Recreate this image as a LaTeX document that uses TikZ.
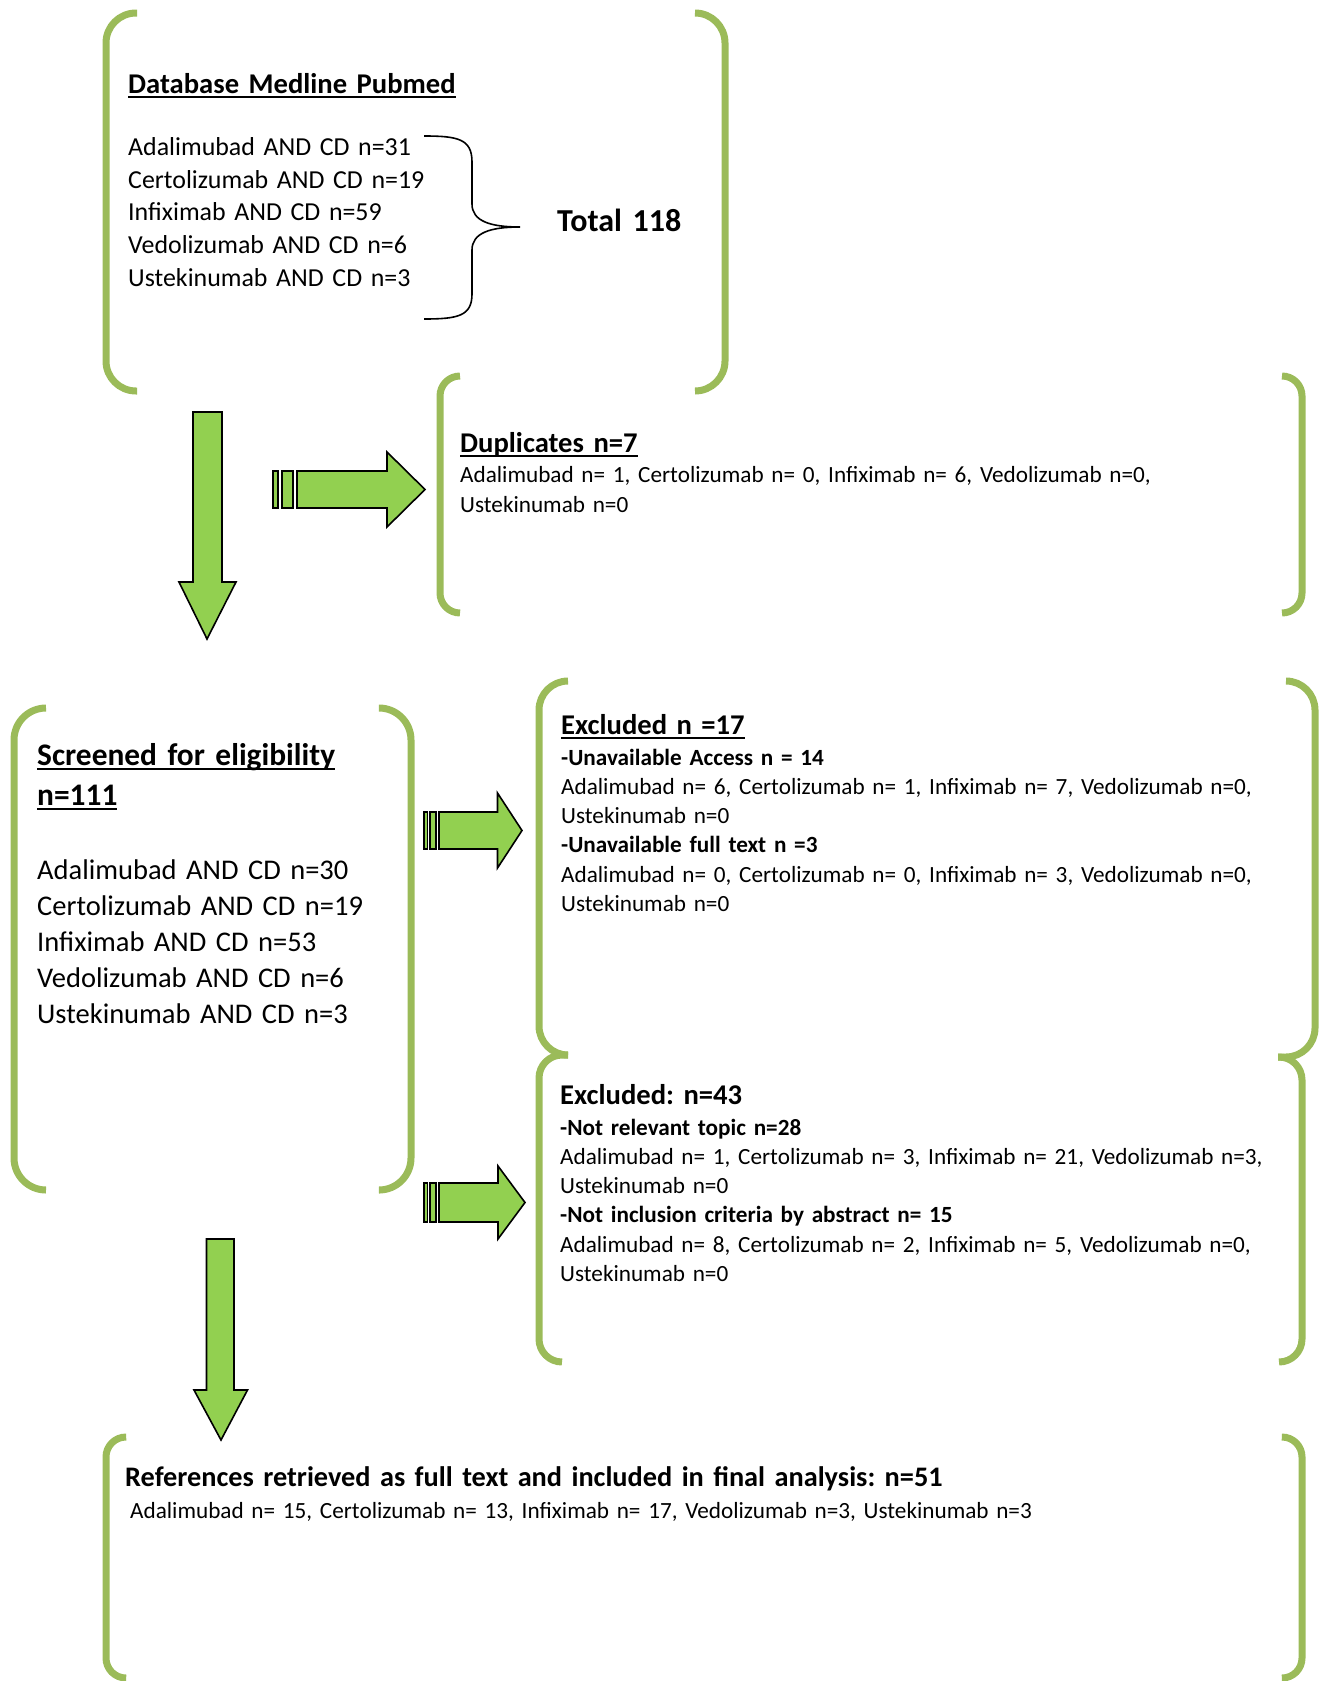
\documentclass[tikz,border=0pt]{standalone}
\usepackage{fontspec}
\setmainfont{Carlito}
\usetikzlibrary{positioning}
\definecolor{framegreen}{HTML}{9BBB59}
\definecolor{arrowgreen}{HTML}{92D050}
\newcommand{\headrule}[1]{\leavevmode\sbox0{#1}\rlap{\rule[-5pt]{\wd0}{2pt}}\usebox0}
\tikzset{
  bracket/.style={draw=framegreen, line width=7pt},
  blockarrow/.style={fill=arrowgreen, draw=black, line width=1.6pt},
  brace/.style={draw=black, line width=1.6pt},
  txt/.style={anchor=base west, inner sep=0pt, align=left, text width=760pt},
  headA/.style={txt, font=\fontsize{28.6}{36}\selectfont\bfseries},
  listA/.style={txt, font=\fontsize{25.9}{32.7}\selectfont},
  listB/.style={txt, font=\fontsize{28.5}{36}\selectfont},
  bodytext/.style={txt, font=\fontsize{23.2}{29.3}\selectfont},
}

\begin{document}
\frenchspacing
\begin{tikzpicture}[x=1pt, y=-1pt]
\useasboundingbox (0,0) rectangle (1324,1681);

% frames
\draw[bracket, rounded corners=30pt] (137,13) -- (106,13) -- (106,391) -- (137,391);
\draw[bracket, rounded corners=30pt] (695,13) -- (725,13) -- (725,391) -- (695,391);
\draw[bracket, rounded corners=20pt] (460,376) -- (440,376) -- (440,613) -- (460,613);
\draw[bracket, rounded corners=20pt] (1282,376) -- (1302,376) -- (1302,613) -- (1282,613);
\draw[bracket, rounded corners=32pt] (46,708) -- (14,708) -- (14,1190) -- (46,1190);
\draw[bracket, rounded corners=32pt] (380,708) -- (411,708) -- (411,1190) -- (380,1190);
\draw[bracket, rounded corners=29pt] (568,681) -- (539,681) -- (539,1055) -- (568,1055);
\draw[bracket, rounded corners=29pt] (1286,681) -- (1315,681) -- (1315,1057) -- (1278,1057);
\draw[bracket, rounded corners=23pt] (568,1055) -- (539,1055) -- (539,1362) -- (562,1362);
\draw[bracket, rounded corners=23pt] (1278,1057) -- (1302,1057) -- (1302,1362) -- (1279,1362);
\draw[bracket, rounded corners=20pt] (125,1437) -- (106,1437) -- (106,1678) -- (125,1678);
\draw[bracket, rounded corners=20pt] (1283,1437) -- (1302,1437) -- (1302,1678) -- (1283,1678);

% texts
\node[headA] (dbtitle) at (128,93) {\headrule{Database Medline Pubmed}};
\node[listA, below=62.5pt of dbtitle.base west, anchor=base west] (dblist)
  {Adalimubad AND CD n=31\\ Certolizumab AND CD n=19\\ Infiximab AND CD n=59\\
   Vedolizumab AND CD n=6\\ Ustekinumab AND CD n=3};
\node[txt, font=\fontsize{32}{38}\selectfont\bfseries] (total) at (557,231) {Total 118};

\node[headA] (duptitle) at (460,452) {\headrule{Duplicates n=7}};
\node[bodytext, below=30.7pt of duptitle.base west, anchor=base west] (duplist)
  {Adalimubad n= 1, Certolizumab n= 0, Infiximab n= 6, Vedolizumab n=0,\\ Ustekinumab n=0};

\node[txt, font=\fontsize{31.4}{40}\selectfont\bfseries] (scrtitle) at (37,765)
  {\headrule{Screened for eligibility}\\ \headrule{n=111}};
\node[listB, below=114pt of scrtitle.base west, anchor=base west] (scrlist)
  {Adalimubad AND CD n=30\\ Certolizumab AND CD n=19\\ Infiximab AND CD n=53\\
   Vedolizumab AND CD n=6\\ Ustekinumab AND CD n=3};

\node[headA] (exatitle) at (561,734) {\headrule{Excluded n =17}};
\node[bodytext, below=31pt of exatitle.base west, anchor=base west] (exalist)
  {\textbf{-Unavailable Access n = 14}\\
   Adalimubad n= 6, Certolizumab n= 1, Infiximab n= 7, Vedolizumab n=0,\\ Ustekinumab n=0\\
   \textbf{-Unavailable full text n =3}\\
   Adalimubad n= 0, Certolizumab n= 0, Infiximab n= 3, Vedolizumab n=0,\\ Ustekinumab n=0};

\node[headA] (exbtitle) at (560,1104) {Excluded: n=43};
\node[bodytext, below=31pt of exbtitle.base west, anchor=base west] (exblist)
  {\textbf{-Not relevant topic n=28}\\
   Adalimubad n= 1, Certolizumab n= 3, Infiximab n= 21, Vedolizumab n=3,\\ Ustekinumab n=0\\
   \textbf{-Not inclusion criteria by abstract n= 15}\\
   Adalimubad n= 8, Certolizumab n= 2, Infiximab n= 5, Vedolizumab n=0,\\ Ustekinumab n=0};

\node[txt, font=\fontsize{28.3}{36}\selectfont\bfseries, text width=1100pt] (fintitle) at (125,1486)
  {References retrieved as full text and included in final analysis: n=51};
\node[bodytext, text width=1100pt, below=32pt of fintitle.base west, anchor=base west, xshift=5pt] (finlist)
  {Adalimubad n= 15, Certolizumab n= 13, Infiximab n= 17, Vedolizumab n=3, Ustekinumab n=3};

% curly brace
\draw[brace] (424,136) .. controls (458,136) and (472,139) .. (472,162) -- (472,204)
  .. controls (472,221) and (490,227) .. (520,227)
  .. controls (490,227) and (472,233) .. (472,250) -- (472,294)
  .. controls (472,316) and (458,319) .. (424,319);

% block arrows
\draw[blockarrow] (193,412) -- (222,412) -- (222,582) -- (236,582) -- (207,639)
  -- (179,582) -- (193,582) -- cycle;
\draw[blockarrow] (206.5,1239) -- (234,1239) -- (234,1390) -- (247.5,1390) -- (221,1440)
  -- (194,1390) -- (206.5,1390) -- cycle;

\draw[blockarrow] (273,471) rectangle (278,508);
\draw[blockarrow] (282,471) rectangle (293,508);
\draw[blockarrow] (297,471) -- (387,471) -- (387,452) -- (425,489.5) -- (387,527)
  -- (387,508) -- (297,508) -- cycle;

\draw[blockarrow] (424,812) rectangle (427.5,849);
\draw[blockarrow] (430,812) rectangle (436,849);
\draw[blockarrow] (439,812) -- (497.5,812) -- (497.5,793) -- (522,830.5) -- (497.5,868)
  -- (497.5,849) -- (439,849) -- cycle;

\draw[blockarrow] (424,1183) rectangle (427.5,1222);
\draw[blockarrow] (430,1183) rectangle (436,1222);
\draw[blockarrow] (439,1183) -- (498,1183) -- (498,1166) -- (525,1202.5) -- (498,1239)
  -- (498,1222) -- (439,1222) -- cycle;
\end{tikzpicture}
\end{document}
